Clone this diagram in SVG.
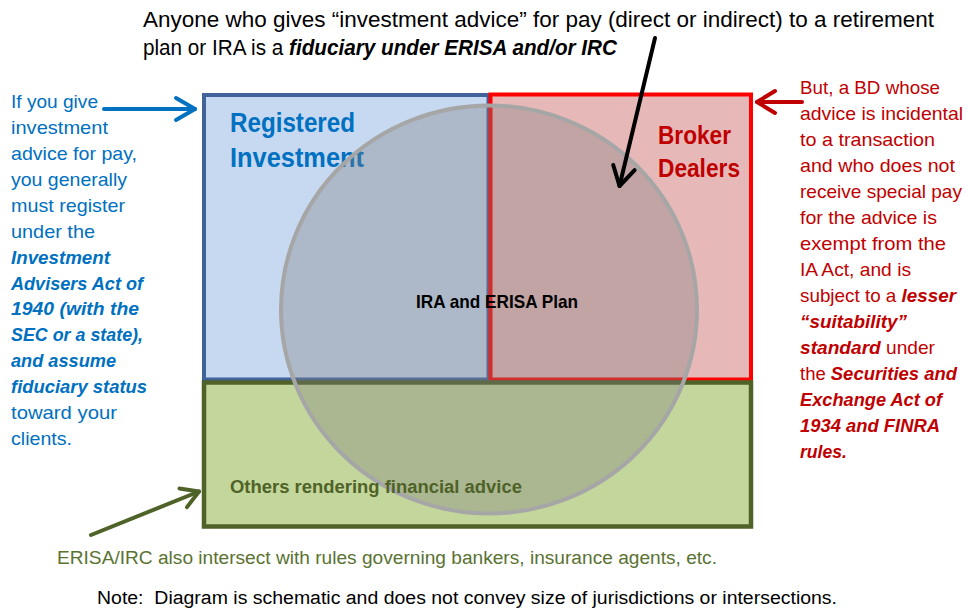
<svg xmlns="http://www.w3.org/2000/svg" width="967" height="609" viewBox="0 0 967 609">
<style>
text{font-family:"Liberation Sans",Arial,sans-serif}
.body{font-size:19px}
.top{font-size:21.5px;fill:#000}
.bi{font-weight:bold;font-style:italic}
.blue{fill:#0070c0}
.red{fill:#c00000}
.head{font-size:27.5px;font-weight:bold}
.arrow{fill:none;stroke-width:4;stroke-linecap:round}
</style>
<defs>
<marker id="mBlue" markerUnits="userSpaceOnUse" viewBox="-22 -14 26 28" markerWidth="26" markerHeight="28" refX="0" refY="0" orient="auto" overflow="visible"><path d="M-19,-11 L0,0 L-19,11" fill="none" stroke="#0070c0" stroke-width="4" stroke-linecap="round" stroke-linejoin="round"/></marker>
<marker id="mRed" markerUnits="userSpaceOnUse" viewBox="-22 -14 26 28" markerWidth="26" markerHeight="28" refX="0" refY="0" orient="auto" overflow="visible"><path d="M-18,-11 L0,0 L-18,11" fill="none" stroke="#c00000" stroke-width="4" stroke-linecap="round" stroke-linejoin="round"/></marker>
<marker id="mBlack" markerUnits="userSpaceOnUse" viewBox="-22 -14 26 28" markerWidth="26" markerHeight="28" refX="0" refY="0" orient="auto" overflow="visible"><path d="M-19,-11 L0,0 L-19,11" fill="none" stroke="#000" stroke-width="4" stroke-linecap="round" stroke-linejoin="round"/></marker>
<marker id="mGreen" markerUnits="userSpaceOnUse" viewBox="-22 -14 26 28" markerWidth="26" markerHeight="28" refX="0" refY="0" orient="auto" overflow="visible"><path d="M-17,-10 L0,0 L-17,10" fill="none" stroke="#4f6228" stroke-width="4" stroke-linecap="round" stroke-linejoin="round"/></marker>
</defs>
<rect width="967" height="609" fill="#fff"/>

<g id="node-ria">
<rect x="204" y="95" width="284.5" height="284.5" fill="#c6d9f1" stroke="#41639a" stroke-width="4"/>
<text class="head blue" x="230" y="132" textLength="125" lengthAdjust="spacingAndGlyphs">Registered</text>
<text class="head blue" x="230" y="167" textLength="134" lengthAdjust="spacingAndGlyphs">Investment</text>
</g>

<g id="node-bd">
<rect x="490.5" y="94.5" width="260.5" height="285" fill="#e6b9b8" stroke="#ff0000" stroke-width="4"/>
<text class="red" x="658" y="144" font-size="25.5" font-weight="bold" textLength="73" lengthAdjust="spacingAndGlyphs">Broker</text>
<text class="red" x="658" y="177" font-size="25.5" font-weight="bold" textLength="82" lengthAdjust="spacingAndGlyphs">Dealers</text>
</g>

<g id="node-others">
<rect x="204" y="382.5" width="547" height="144" fill="#c3d69b" stroke="#4f6228" stroke-width="4.5"/>
</g>

<g id="node-plan">
<ellipse cx="489" cy="309.5" rx="208" ry="204" fill="#7f7f7f" fill-opacity="0.35" stroke="#a6a6a6" stroke-width="4"/>
<text x="416" y="308" font-size="18.5" font-weight="bold" fill="#000" textLength="162" lengthAdjust="spacingAndGlyphs">IRA and ERISA Plan</text>
</g>

<g id="label-others">
<text x="230" y="493" font-size="17.5" font-weight="bold" fill="#4f6228" textLength="292" lengthAdjust="spacingAndGlyphs">Others rendering financial advice</text>
</g>

<g id="connectors">
<line class="arrow" x1="104" y1="109" x2="195" y2="109" stroke="#0070c0" marker-end="url(#mBlue)"/>
<line class="arrow" x1="802" y1="102" x2="757" y2="102" stroke="#c00000" marker-end="url(#mRed)"/>
<line class="arrow" x1="655" y1="38" x2="619.5" y2="186" stroke="#000" marker-end="url(#mBlack)"/>
<line class="arrow" x1="91" y1="535" x2="199" y2="491.5" stroke="#4f6228" marker-end="url(#mGreen)"/>
</g>

<g id="note-top">
<text class="top" x="143" y="27" textLength="791" lengthAdjust="spacingAndGlyphs">Anyone who gives “investment advice” for pay (direct or indirect) to a retirement</text>
<text class="top" x="143" y="55" textLength="474" lengthAdjust="spacingAndGlyphs">plan or IRA is a <tspan class="bi">fiduciary under ERISA and/or IRC</tspan></text>
</g>

<g id="note-left" class="body blue">
<text x="11" y="108" textLength="87" lengthAdjust="spacingAndGlyphs">If you give</text>
<text x="11" y="134" textLength="97" lengthAdjust="spacingAndGlyphs">investment</text>
<text x="11" y="160" textLength="126" lengthAdjust="spacingAndGlyphs">advice for pay,</text>
<text x="11" y="186" textLength="116" lengthAdjust="spacingAndGlyphs">you generally</text>
<text x="11" y="212" textLength="114" lengthAdjust="spacingAndGlyphs">must register</text>
<text x="11" y="238" textLength="84" lengthAdjust="spacingAndGlyphs">under the</text>
<text class="bi" x="11" y="264" textLength="99" lengthAdjust="spacingAndGlyphs">Investment</text>
<text class="bi" x="11" y="290" textLength="132" lengthAdjust="spacingAndGlyphs">Advisers Act of</text>
<text class="bi" x="11" y="315" textLength="128" lengthAdjust="spacingAndGlyphs">1940 (with the</text>
<text class="bi" x="11" y="341" textLength="132" lengthAdjust="spacingAndGlyphs">SEC or a state),</text>
<text class="bi" x="11" y="367" textLength="105" lengthAdjust="spacingAndGlyphs">and assume</text>
<text class="bi" x="11" y="393" textLength="136" lengthAdjust="spacingAndGlyphs">fiduciary status</text>
<text x="11" y="419" textLength="106" lengthAdjust="spacingAndGlyphs">toward your</text>
<text x="11" y="445" textLength="61" lengthAdjust="spacingAndGlyphs">clients.</text>
</g>

<g id="note-right" class="body red">
<text x="800" y="94" textLength="140" lengthAdjust="spacingAndGlyphs">But, a BD whose</text>
<text x="800" y="120" textLength="163" lengthAdjust="spacingAndGlyphs">advice is incidental</text>
<text x="800" y="146" textLength="135" lengthAdjust="spacingAndGlyphs">to a transaction</text>
<text x="800" y="172" textLength="155" lengthAdjust="spacingAndGlyphs">and who does not</text>
<text x="800" y="198" textLength="162" lengthAdjust="spacingAndGlyphs">receive special pay</text>
<text x="800" y="224" textLength="137" lengthAdjust="spacingAndGlyphs">for the advice is</text>
<text x="800" y="250" textLength="146" lengthAdjust="spacingAndGlyphs">exempt from the</text>
<text x="800" y="276" textLength="111" lengthAdjust="spacingAndGlyphs">IA Act, and is</text>
<text x="800" y="302" textLength="156" lengthAdjust="spacingAndGlyphs">subject to a <tspan class="bi">lesser</tspan></text>
<text class="bi" x="800" y="328" textLength="107" lengthAdjust="spacingAndGlyphs">“suitability”</text>
<text x="800" y="354" textLength="135" lengthAdjust="spacingAndGlyphs"><tspan class="bi">standard</tspan> under</text>
<text x="800" y="380" textLength="157" lengthAdjust="spacingAndGlyphs">the <tspan class="bi">Securities and</tspan></text>
<text class="bi" x="800" y="406" textLength="142" lengthAdjust="spacingAndGlyphs">Exchange Act of</text>
<text class="bi" x="800" y="432" textLength="140" lengthAdjust="spacingAndGlyphs">1934 and FINRA</text>
<text class="bi" x="800" y="458" textLength="47" lengthAdjust="spacingAndGlyphs">rules.</text>
</g>

<g id="note-bottom">
<text x="57" y="564" font-size="18" fill="#5a7232" textLength="660" lengthAdjust="spacingAndGlyphs">ERISA/IRC also intersect with rules governing bankers, insurance agents, etc.</text>
<text x="97" y="604" font-size="18" fill="#000" textLength="740" lengthAdjust="spacingAndGlyphs">Note:&#160; Diagram is schematic and does not convey size of jurisdictions or intersections.</text>
</g>
</svg>
